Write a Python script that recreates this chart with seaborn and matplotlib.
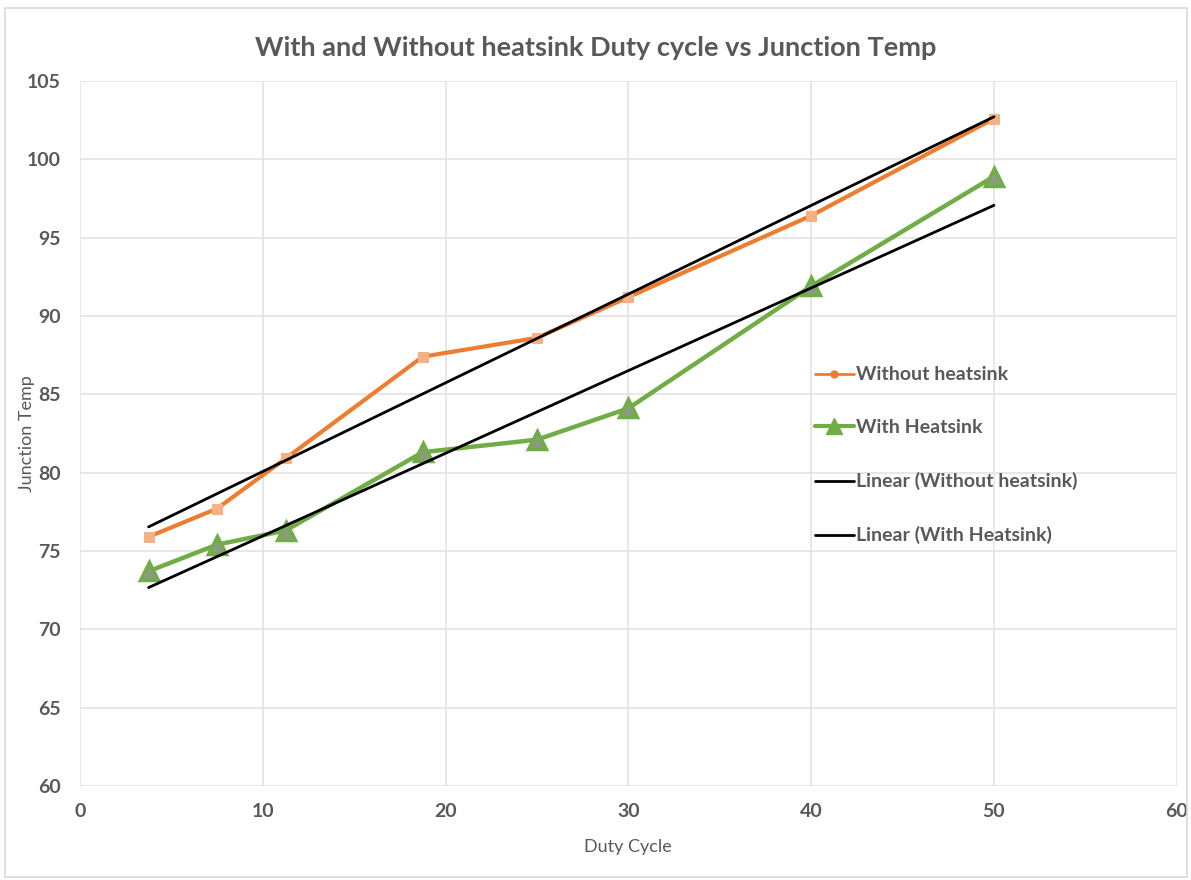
import numpy as np
import pandas as pd
import seaborn as sns
import matplotlib.pyplot as plt
from matplotlib.lines import Line2D

duty_cycle = [3.75, 7.5, 11.25, 18.75, 25, 30, 40, 50]
temp_without = [75.9, 77.7, 80.9, 87.4, 88.6, 91.2, 96.4, 102.6]
temp_with = [73.7, 75.4, 76.3, 81.3, 82.1, 84.1, 91.9, 98.9]

sns.set_theme(style="white")
plt.rcParams['font.family'] = ['Lato', 'DejaVu Sans']

text_col = "#595959"
orange = "#ED7D31"
green = "#70AD47"

df = pd.DataFrame({
    "Duty Cycle": duty_cycle * 2,
    "Junction Temp": temp_without + temp_with,
    "Series": ["Without heatsink"] * len(duty_cycle) + ["With Heatsink"] * len(duty_cycle),
})

fig = plt.figure(figsize=(11.91, 8.8), dpi=100)
ax = fig.add_axes([0.0672, 0.107, 0.9208, 0.801])

# outer chart border
fig.patches.append(plt.Rectangle((0.004, 0.003), 0.993, 0.988, transform=fig.transFigure,
                                 fill=False, edgecolor="#d9d9d9", linewidth=1.2))

sub_wo = df[df["Series"] == "Without heatsink"]
sub_w = df[df["Series"] == "With Heatsink"]

sns.lineplot(data=sub_wo, x="Duty Cycle", y="Junction Temp", ax=ax, color=orange,
             linewidth=3, marker="s", markersize=7, markerfacecolor="#F4B183",
             markeredgecolor="#F4B183", zorder=3)
sns.lineplot(data=sub_w, x="Duty Cycle", y="Junction Temp", ax=ax, color=green,
             linewidth=3.2, marker="^", markersize=13, markerfacecolor="#8c9a80",
             markeredgecolor=green, markeredgewidth=2.5, zorder=3)

# linear trendlines
x_arr = np.array(duty_cycle)
for vals in (temp_without, temp_with):
    m, b = np.polyfit(x_arr, np.array(vals), 1)
    xs = np.array([x_arr.min(), x_arr.max()])
    ax.plot(xs, m * xs + b, color="black", linewidth=2, zorder=4)

ax.set_xlim(0, 60)
ax.set_ylim(60, 105)
ax.set_xticks(range(0, 61, 10))
ax.set_yticks(range(60, 106, 5))
ax.grid(True, color="#e3e3e3", linewidth=1.2)
for s in ax.spines.values():
    s.set_visible(False)
ax.tick_params(axis="both", length=0, labelsize=14, labelcolor=text_col)
ax.tick_params(axis="x", pad=12)
ax.tick_params(axis="y", pad=14)
for lbl in ax.get_xticklabels() + ax.get_yticklabels():
    lbl.set_fontweight("bold")

ax.set_xlabel("Duty Cycle", fontsize=13, color=text_col, labelpad=14)
ax.set_ylabel("Junction Temp", fontsize=13, color=text_col)
ax.yaxis.set_label_coords(-0.041, 0.5)
fig.text(0.5, 0.946, "With and Without heatsink Duty cycle vs Junction Temp",
         ha="center", va="center", fontsize=19.5, fontweight="bold", color=text_col)

handles = [
    Line2D([], [], color=orange, linewidth=2, marker="o", markersize=5),
    Line2D([], [], color=green, linewidth=3, marker="^", markersize=12,
           markerfacecolor=green, markeredgecolor=green),
    Line2D([], [], color="black", linewidth=2),
    Line2D([], [], color="black", linewidth=2),
]
labels = ["Without heatsink", "With Heatsink", "Linear (Without heatsink)", "Linear (With Heatsink)"]
leg = ax.legend(handles, labels, loc="upper left", bbox_to_anchor=(0.654, 0.62),
                frameon=False, handlelength=2.0, handletextpad=0.1,
                labelspacing=1.85, prop={"size": 14, "weight": "bold"})
for t in leg.get_texts():
    t.set_color(text_col)

fig.savefig("out.png", dpi=100)
